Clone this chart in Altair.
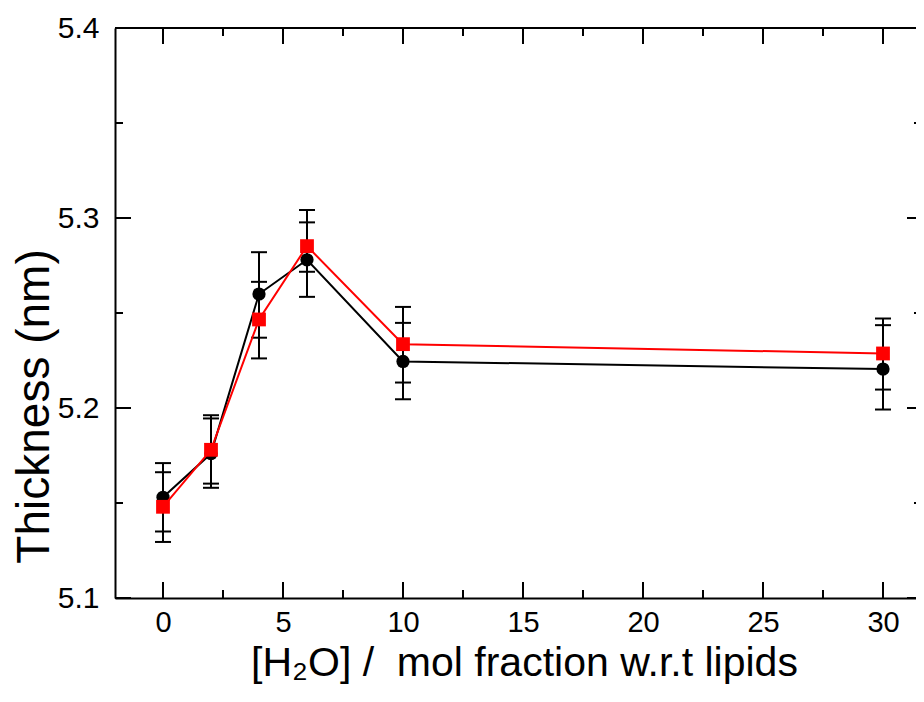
import altair as alt
import pandas as pd

# Data
water = [0, 2, 4, 6, 10, 30]
black_y = [5.153, 5.176, 5.260, 5.278, 5.2245, 5.2205]
black_lo = [5.135, 5.158, 5.237, 5.2585, 5.2046, 5.1992]
black_hi = [5.171, 5.1945, 5.282, 5.2977, 5.2448, 5.2436]
red_y = [5.148, 5.178, 5.2466, 5.2852, 5.2336, 5.2287]
red_lo = [5.1295, 5.1602, 5.2261, 5.2717, 5.2134, 5.2097]
red_hi = [5.1662, 5.1962, 5.2664, 5.3042, 5.2532, 5.2471]

x_major = [0, 5, 10, 15, 20, 25, 30]
x_minor = [2.5, 7.5, 12.5, 17.5, 22.5, 27.5]
y_major = [5.1, 5.2, 5.3, 5.4]
y_minor = [5.15, 5.25, 5.35]

W, H = 801, 570
XMIN, XMAX = -2, -2 + W / 24.0

black = pd.DataFrame({"x": water, "y": black_y, "lo": black_lo, "hi": black_hi})
red = pd.DataFrame({"x": water, "y": red_y, "lo": red_lo, "hi": red_hi})
both = pd.concat([black, red], ignore_index=True)

xmaj = pd.DataFrame({"x": x_major})
xmin = pd.DataFrame({"x": x_minor})
ymaj = pd.DataFrame({"y": y_major})
ymin = pd.DataFrame({"y": y_minor})

FONT = "Liberation Sans"

x_enc = alt.X(
    "x:Q",
    scale=alt.Scale(domain=[XMIN, XMAX], nice=False, zero=False),
    axis=alt.Axis(
        values=x_major, ticks=False, grid=False, domainWidth=2, domainColor="black",
        labelFontSize=29, labelPadding=10, labelColor="black", labelFlush=False,
        title="[H₂O] /\u00a0 mol fraction w.r.t lipids", titleFontSize=41,
        titleFontWeight="normal", titleColor="black", titleX=409, titleY=77,
        titleBaseline="alphabetic", titleAlign="center",
    ),
)
y_enc = alt.Y(
    "y:Q",
    scale=alt.Scale(domain=[5.1, 5.4], nice=False, zero=False),
    axis=alt.Axis(
        values=y_major, format=".1f", ticks=False, grid=False, domainWidth=2,
        domainColor="black", labelFontSize=30, labelPadding=16, labelColor="black",
        labelFlush=False,
        title="Thickness (nm)", titleFontSize=46, titleFontWeight="normal",
        titleColor="black", titleX=-67, titleY=378, titleBaseline="alphabetic",
        titleAlign="center", titleAngle=270,
    ),
)

# error bars
err_rule = alt.Chart(both).mark_rule(color="black", strokeWidth=2).encode(
    x="x:Q", y="lo:Q", y2="hi:Q"
)
cap_lo = alt.Chart(both).mark_tick(orient="horizontal", size=16, thickness=2, color="black", opacity=1).encode(
    x="x:Q", y="lo:Q"
)
cap_hi = alt.Chart(both).mark_tick(orient="horizontal", size=16, thickness=2, color="black", opacity=1).encode(
    x="x:Q", y="hi:Q"
)

black_line = alt.Chart(black).mark_line(color="black", strokeWidth=2).encode(x=x_enc, y=y_enc)
black_pts = alt.Chart(black).mark_point(shape="circle", filled=True, size=175, color="black", opacity=1).encode(
    x="x:Q", y="y:Q"
)
red_line = alt.Chart(red).mark_line(color="#ff0000", strokeWidth=2).encode(x="x:Q", y="y:Q")
red_pts = alt.Chart(red).mark_point(shape="square", filled=True, size=190, color="#ff0000", opacity=1).encode(
    x="x:Q", y="y:Q"
)

# frame top line
top_line = alt.Chart(xmaj).mark_rule(color="black", strokeWidth=2).encode(
    x=alt.value(0), x2=alt.value(W), y=alt.value(0)
)

# inward ticks
def xticks(df, length):
    b = alt.Chart(df).mark_rule(color="black", strokeWidth=2).encode(
        x="x:Q", y=alt.value(H - length), y2=alt.value(H)
    )
    t = alt.Chart(df).mark_rule(color="black", strokeWidth=2).encode(
        x="x:Q", y=alt.value(0), y2=alt.value(length)
    )
    return [b, t]

def yticks(df, length, right_length):
    l = alt.Chart(df).mark_rule(color="black", strokeWidth=2).encode(
        y="y:Q", x=alt.value(0), x2=alt.value(length)
    )
    r = alt.Chart(df).mark_rule(color="black", strokeWidth=2).encode(
        y="y:Q", x=alt.value(W - right_length), x2=alt.value(W)
    )
    return [l, r]

layers = [black_line, top_line] + xticks(xmaj, 16) + xticks(xmin, 8) + yticks(ymaj, 16, 9) + yticks(ymin, 8, 2)
layers += [err_rule, cap_lo, cap_hi, black_pts, red_line, red_pts]

chart = alt.layer(*layers).properties(
    width=W,
    height=H,
    autosize=alt.AutoSizeParams(type="none"),
    padding={"left": 107, "top": 20, "right": 0, "bottom": 90},
).configure_view(stroke=None).configure(font=FONT)

chart.save("out.html", embed_options={"renderer": "svg", "actions": False})
